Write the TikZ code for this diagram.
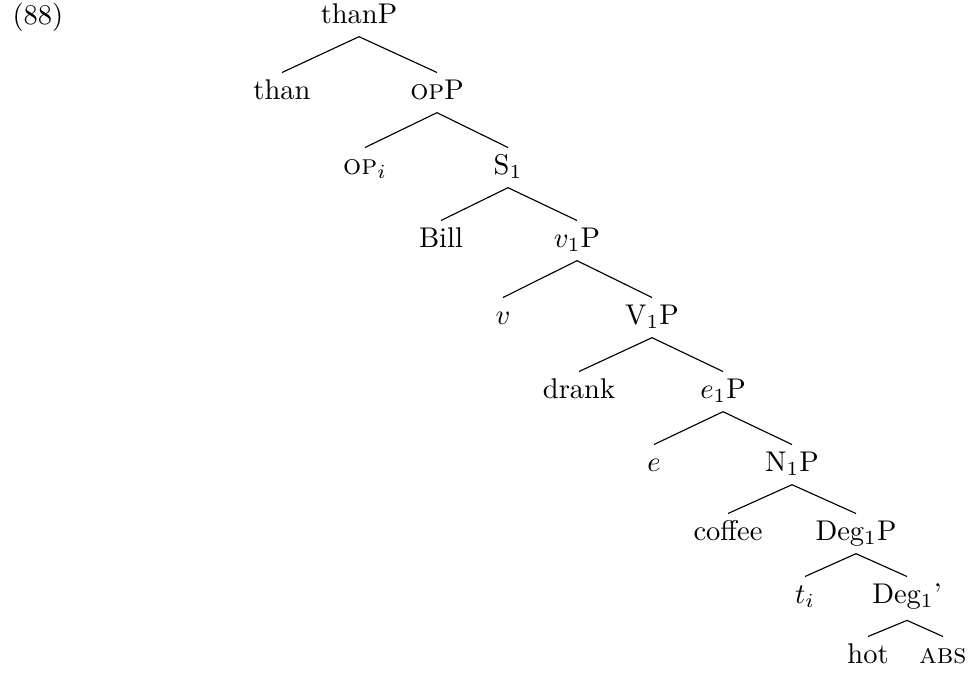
\documentclass[tikz,border=0pt]{standalone}
\begin{document}
\begin{tikzpicture}[x=0.35088pt,y=-0.35088pt,
  lbl/.style={anchor=base, inner sep=0pt, text height=9.1pt, text depth=4.6pt, font=\fontsize{10}{12}\selectfont},
  branch/.style={line width=0.4pt}]
\useasboundingbox (0,0) rectangle (971,673);
\node[anchor=base west, inner sep=0pt, font=\fontsize{10}{12}\selectfont] (ex) at (12,24) {(88)};
\node[lbl] (thanP) at (359,23) {thanP};
\node[lbl] (than) at (282,99) {than};
\node[lbl] (opP) at (437,99) {\textsc{op}P};
\node[lbl] (opi) at (365,174) {\textsc{op}$_i$};
\node[lbl] (S1) at (508,174) {S$_1$};
\node[lbl] (Bill) at (441,247) {Bill};
\node[lbl] (v1P) at (577,247) {$v_1$P};
\node[lbl] (v) at (503,324) {$v$};
\node[lbl] (V1P) at (652,324) {V$_1$P};
\node[lbl] (drank) at (579,398) {drank};
\node[lbl] (e1P) at (723,398) {$e_1$P};
\node[lbl] (e) at (654,471) {$e$};
\node[lbl] (N1P) at (792,471) {N$_1$P};
\node[lbl] (coffee) at (728,540) {coffee};
\node[lbl] (Deg1P) at (856,540) {Deg$_1$P};
\node[lbl] (ti) at (805,603) {$t_i$};
\node[lbl] (Deg1b) at (907,603) {Deg$_1$'};
\node[lbl] (hot) at (868,663) {hot};
\node[lbl] (abs) at (943,663) {\textsc{abs}};
\draw[branch] (thanP.south) -- (than.north);
\draw[branch] (thanP.south) -- (opP.north);
\draw[branch] (opP.south) -- (opi.north);
\draw[branch] (opP.south) -- (S1.north);
\draw[branch] (S1.south) -- (Bill.north);
\draw[branch] (S1.south) -- (v1P.north);
\draw[branch] (v1P.south) -- (v.north);
\draw[branch] (v1P.south) -- (V1P.north);
\draw[branch] (V1P.south) -- (drank.north);
\draw[branch] (V1P.south) -- (e1P.north);
\draw[branch] (e1P.south) -- (e.north);
\draw[branch] (e1P.south) -- (N1P.north);
\draw[branch] (N1P.south) -- (coffee.north);
\draw[branch] (N1P.south) -- (Deg1P.north);
\draw[branch] (Deg1P.south) -- (ti.north);
\draw[branch] (Deg1P.south) -- (Deg1b.north);
\draw[branch] ([yshift=-1.3pt]Deg1b.south) -- (hot.north);
\draw[branch] ([yshift=-1.3pt]Deg1b.south) -- (abs.north);
\end{tikzpicture}
\end{document}
